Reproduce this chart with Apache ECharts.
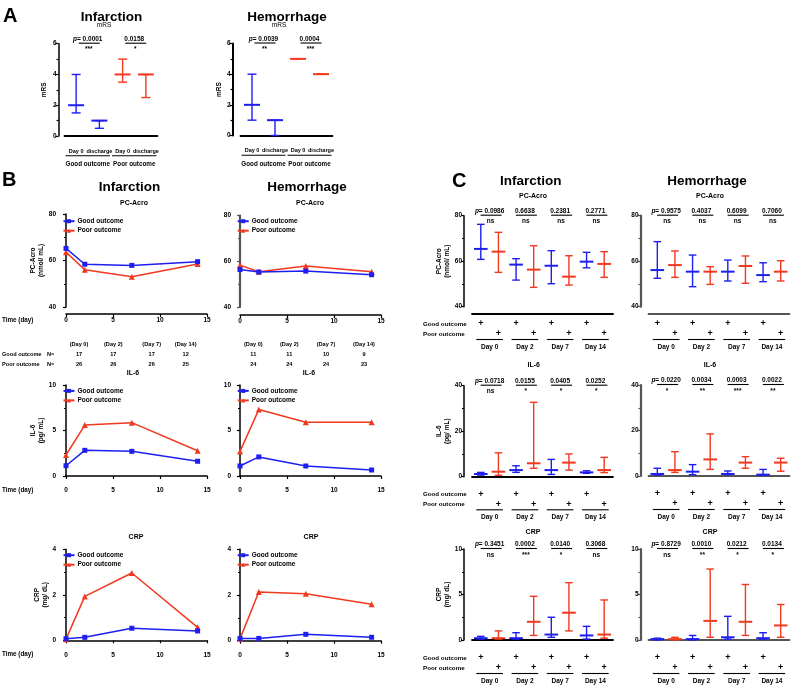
<!DOCTYPE html>
<html><head><meta charset="utf-8">
<script src="https://cdn.jsdelivr.net/npm/echarts@6/dist/echarts.min.js"></script>
<style>html,body{margin:0;padding:0;background:#fff}#c{width:792px;height:687px}</style>
</head><body><div id="c"></div>
<script>
const BLUE = '#1e1ef0', RED = '#f2381f';
const FF = '"Liberation Sans", Arial, sans-serif';

// ---------- Panel A data ----------
const aCategories = ['Day 0', 'discharge', 'Day 0', 'discharge'];
const aGroups = ['Good outcome', 'Poor outcome'];
const aInfMedian = [2, 1, 4, 4];
const aInfLow = [1.5, 0.5, 3.5, 2.5];
const aInfHigh = [4, 1, 5, 4];
const aInfP = ['0.0001', '0.0158'];
const aInfStars = ['***', '*'];
const aHemMedian = [2, 1, 5, 4];
const aHemLow = [1, 0, 5, 4];
const aHemHigh = [4, 1, 5, 4];
const aHemP = ['0.0039', '0.0004'];
const aHemStars = ['**', '***'];

// ---------- Panel B data ----------
const bDays = [0, 2, 7, 14];
const bInfAcroGood = [65.2, 58.4, 57.9, 59.5];
const bInfAcroPoor = [63.6, 56.0, 53.0, 58.5];
const bHemAcroGood = [56.4, 55.3, 55.7, 54.1];
const bHemAcroPoor = [58.3, 55.4, 57.9, 55.4];
const bInfIl6Good = [1.13, 2.82, 2.71, 1.62];
const bInfIl6Poor = [2.31, 5.6, 5.86, 2.78];
const bHemIl6Good = [1.1, 2.1, 1.1, 0.66];
const bHemIl6Poor = [2.7, 7.3, 5.9, 5.9];
const bInfCrpGood = [0.07, 0.13, 0.53, 0.41];
const bInfCrpPoor = [0.05, 1.93, 2.96, 0.57];
const bHemCrpGood = [0.1, 0.1, 0.28, 0.15];
const bHemCrpPoor = [0.08, 2.13, 2.05, 1.6];
const nDayLabels = ['(Day 0)', '(Day 2)', '(Day 7)', '(Day 14)'];
const nInfGood = [17, 17, 17, 12];
const nInfPoor = [26, 26, 26, 25];
const nHemGood = [11, 11, 10, 9];
const nHemPoor = [24, 24, 24, 23];

// ---------- Panel C data (alternating Good / Poor per day) ----------
const cCategories = ['Good', 'Poor', 'Good', 'Poor', 'Good', 'Poor', 'Good', 'Poor'];
const cDays = ['Day 0', 'Day 2', 'Day 7', 'Day 14'];
const cInfAcroMed = [65.4, 64.2, 58.5, 56.3, 58.0, 53.2, 59.8, 58.8];
const cInfAcroLow = [60.8, 55.1, 51.7, 48.5, 50.1, 49.5, 57.1, 52.9];
const cInfAcroHigh = [76.2, 72.7, 61.1, 66.8, 64.6, 62.4, 63.9, 64.2];
const cInfAcroP = ['0.0986', '0.6638', '0.2381', '0.2771'];
const cInfAcroStars = ['ns', 'ns', 'ns', 'ns'];
const cHemAcroMed = [56.1, 58.3, 55.4, 55.4, 55.4, 57.9, 53.9, 55.4];
const cHemAcroLow = [52.5, 52.9, 48.8, 49.8, 51.3, 50.3, 51.0, 51.3];
const cHemAcroHigh = [68.6, 64.5, 62.7, 57.6, 60.5, 62.3, 59.3, 60.2];
const cHemAcroP = ['0.9575', '0.4037', '0.6099', '0.7060'];
const cHemAcroStars = ['ns', 'ns', 'ns', 'ns'];
const cInfIl6Med = [1.2, 2.2, 2.9, 5.9, 2.9, 6.2, 1.9, 2.9];
const cInfIl6Low = [0.7, 0.6, 1.9, 3.7, 1.0, 2.9, 1.5, 1.8];
const cInfIl6High = [1.9, 10.5, 4.8, 32.7, 7.6, 10.0, 2.6, 8.5];
const cInfIl6P = ['0.0718', '0.0155', '0.0405', '0.0252'];
const cInfIl6Stars = ['ns', '*', '*', '*'];
const cHemIl6Med = [0.9, 2.6, 1.9, 7.3, 0.9, 5.9, 0.6, 5.9];
const cHemIl6Low = [0.4, 1.6, 0.6, 2.9, 0.6, 3.4, 0.3, 2.1];
const cHemIl6High = [3.4, 10.7, 5.0, 18.5, 2.2, 8.5, 2.9, 7.8];
const cHemIl6P = ['0.0220', '0.0034', '0.0003', '0.0022'];
const cHemIl6Stars = ['*', '**', '***', '**'];
const cInfCrpMed = [0.2, 0.2, 0.2, 2.0, 0.6, 3.0, 0.5, 0.6];
const cInfCrpLow = [0.1, 0.1, 0.1, 0.5, 0.3, 1.0, 0.1, 0.2];
const cInfCrpHigh = [0.4, 1.0, 0.8, 4.8, 2.5, 6.3, 1.5, 4.4];
const cInfCrpP = ['0.3451', '0.0002', '0.0140', '0.3068'];
const cInfCrpStars = ['ns', '***', '*', 'ns'];
const cHemCrpMed = [0.1, 0.1, 0.1, 2.1, 0.3, 2.0, 0.2, 1.6];
const cHemCrpLow = [0.0, 0.0, 0.0, 0.3, 0.1, 0.5, 0.1, 0.3];
const cHemCrpHigh = [0.2, 0.3, 0.5, 7.8, 2.6, 6.1, 0.8, 3.9];
const cHemCrpP = ['0.8729', '0.0010', '0.0212', '0.0134'];
const cHemCrpStars = ['ns', '**', '*', '*'];

// ---------- builders ----------
const grids = [], xAxes = [], yAxes = [], series = [], legends = [], graphics = [];

function txt(x, y, text, size, weight, extra) {
  return Object.assign({
    type: 'text', x: x, y: y, silent: true,
    style: Object.assign({
      text: text, fill: '#000', fontSize: size, fontWeight: weight || 'bold', fontFamily: FF,
      align: 'center', verticalAlign: 'middle', textAlign: 'center', textVerticalAlign: 'middle'
    }, extra || {})
  });
}
function ln(x1, y1, x2, y2, w, c) {
  return { type: 'line', silent: true, shape: { x1: x1, y1: y1, x2: x2, y2: y2 }, style: { stroke: c || '#000', lineWidth: w || 1.2 } };
}

function yAxisCfg(gi, c, axisColor, axisW) {
  return {
    type: 'value', gridIndex: gi, min: c.min, max: c.max, interval: c.interval, offset: c.yOff,
    splitLine: { show: false },
    axisLine: { show: true, lineStyle: { color: axisColor, width: axisW } },
    axisTick: { show: true, length: 3, lineStyle: { color: axisColor, width: 1.2 } },
    minorTick: { show: true, splitNumber: 2, length: 2, lineStyle: { color: axisColor, width: 1.2 } },
    axisLabel: { fontSize: 6.5, fontWeight: 'bold', color: '#000', margin: 2, fontFamily: FF },
    name: c.yName || '', nameLocation: 'middle', nameRotate: 90, nameGap: c.nameGap || 10,
    nameTextStyle: { fontSize: 6.5, fontWeight: 'bold', color: '#000', lineHeight: 7.5, fontFamily: FF }
  };
}

// Error-bar (median with range) plot, used for panels A and C
function addRangePlot(c) {
  const gi = grids.length;
  const axisColor = c.axisColor || '#000', axisW = c.axisW || 1.5;
  grids.push({ left: c.left, top: c.top, width: c.width, height: c.height });
  xAxes.push({
    type: 'category', gridIndex: gi, data: c.cats, offset: c.xOff, boundaryGap: true,
    axisLine: { show: true, lineStyle: { color: axisColor, width: 1.8 } },
    axisTick: { show: false },
    axisLabel: c.kind === 'A'
      ? { show: true, interval: 0, fontSize: 5.5, fontWeight: 'bold', color: '#000', margin: 4, fontFamily: FF }
      : { show: false },
    splitLine: { show: false }
  });
  yAxes.push(yAxisCfg(gi, c, axisColor, axisW));
  const capW = c.kind === 'A' ? 4.5 : 3.8;
  const medW = c.kind === 'A' ? 8 : 6.8;
  series.push({
    type: 'custom', xAxisIndex: gi, yAxisIndex: gi, silent: true,
    data: c.med.map((m, i) => [i, m, c.low[i], c.high[i]]),
    encode: { x: 0, y: 1 },
    renderItem: function (params, api) {
      const i = api.value(0);
      const col = c.colorOf(i);
      const pm = api.coord([i, api.value(1)]);
      const pl = api.coord([i, api.value(2)]);
      const ph = api.coord([i, api.value(3)]);
      const x = pm[0];
      return {
        type: 'group', children: [
          ln(x, pl[1], x, ph[1], 1.4, col),
          ln(x - capW, pl[1], x + capW, pl[1], 1.4, col),
          ln(x - capW, ph[1], x + capW, ph[1], 1.4, col),
          ln(x - medW, pm[1], x + medW, pm[1], 2, col)
        ]
      };
    }
  });
  // annotations: p values, stars, group rows
  series.push({
    type: 'custom', xAxisIndex: gi, yAxisIndex: gi, silent: true, clip: false, z: 10,
    data: c.pvals.map((p, i) => [i, c.max]),
    encode: { x: 0, y: 1 },
    renderItem: function (params, api) {
      const k = params.dataIndex;
      const a = api.coord([2 * k, c.max]);
      const b = api.coord([2 * k + 1, c.max]);
      const bot = api.coord([2 * k, c.min])[1] + c.xOff;
      const cx = (a[0] + b[0]) / 2, top = a[1];
      const ch = [];
      const ptxt = (k === 0 ? '{i|p}= ' : '') + c.pvals[k];
      ch.push(txt(cx, top - 4.5, ptxt, 6.5, 'bold', {
        rich: { i: { fontStyle: 'italic', fontSize: 6.5, fontWeight: 'bold', fontFamily: FF, fill: '#000' } }
      }));
      ch.push(ln(cx - 10.5 + 1.5, top - 0.5, cx + 10.5 + 1.5, top - 0.5, 1.1));
      ch.push(txt(cx + 1, top + 6, c.stars[k], 6.5, 'bold'));
      if (c.kind === 'A') {
        const hw = (b[0] - a[0]) / 2;
        ch.push(ln(a[0] - hw + 1, bot + 11.7, b[0] + hw - 1, bot + 11.7, 1.1));
        ch.push(txt(cx, bot + 20.7, aGroups[k], 6.3, 'bold'));
      } else {
        ch.push(txt(a[0], bot + 10, '+', 9, 'bold'));
        ch.push(txt(b[0], bot + 20, '+', 9, 'bold'));
        ch.push(ln(a[0] - 4.5, bot + 25.5, b[0] + 4.5, bot + 25.5, 1.1));
        ch.push(txt(cx, bot + 33.3, cDays[k], 6.5, 'bold'));
      }
      return { type: 'group', children: ch };
    }
  });
}

// Time-course line plot (panel B)
function addLinePlot(c) {
  const gi = grids.length;
  const axisColor = c.axisColor || '#000', axisW = c.axisW || 1.5;
  grids.push({ left: c.left, top: c.top, width: c.width, height: c.height });
  xAxes.push({
    type: 'value', gridIndex: gi, min: 0, max: 15, interval: 5, offset: c.xOff,
    splitLine: { show: false },
    axisLine: { show: true, lineStyle: { color: '#000', width: 1.5 } },
    axisTick: { show: true, length: 3, lineStyle: { color: '#000', width: 1.2 } },
    axisLabel: { fontSize: 6.5, fontWeight: 'bold', color: '#000', margin: 3, fontFamily: FF }
  });
  yAxes.push(yAxisCfg(gi, c, axisColor, axisW));
  series.push({
    type: 'line', name: 'Good outcome', xAxisIndex: gi, yAxisIndex: gi,
    data: bDays.map((d, i) => [d, c.good[i]]),
    symbol: 'rect', symbolSize: 5, lineStyle: { width: 1.5, color: BLUE }, itemStyle: { color: BLUE }, z: 3
  });
  series.push({
    type: 'line', name: 'Poor outcome', xAxisIndex: gi, yAxisIndex: gi,
    data: bDays.map((d, i) => [d, c.poor[i]]),
    symbol: 'triangle', symbolSize: 6, lineStyle: { width: 1.5, color: RED }, itemStyle: { color: RED }, z: 2
  });
  legends.push({
    data: ['Good outcome', 'Poor outcome'], orient: 'vertical', left: c.legLeft, top: c.legTop,
    itemWidth: 11, itemHeight: 5, itemGap: 2.5, padding: 0, selectedMode: false,
    textStyle: { fontSize: 6.5, fontWeight: 'bold', color: '#000', fontFamily: FF, padding: [0, 0, 0, -2] }
  });
  if (c.timeLabel) {
    graphics.push(txt(2, c.top + c.height + c.xOff + 6.2, 'Time (day)', 6.3, 'bold', { align: 'left', textAlign: 'left' }));
  }
}

const blueFirst2 = i => (i < 2 ? BLUE : RED);
const alt = i => (i % 2 === 0 ? BLUE : RED);

// ---------- Panel A ----------
addRangePlot({ kind: 'A', left: 64.5, top: 43.7, width: 93, height: 92.3, min: 0, max: 6, interval: 2, yOff: 6, xOff: 8,
  cats: aCategories, med: aInfMedian, low: aInfLow, high: aInfHigh, pvals: aInfP, stars: aInfStars,
  colorOf: blueFirst2, yName: 'mRS', nameGap: 11 });
addRangePlot({ kind: 'A', left: 240.5, top: 43.5, width: 92, height: 92, min: 0, max: 6, interval: 2, yOff: 8, xOff: 8,
  cats: aCategories, med: aHemMedian, low: aHemLow, high: aHemHigh, pvals: aHemP, stars: aHemStars,
  colorOf: blueFirst2, yName: 'mRS', nameGap: 7, axisW: 2 });

// ---------- Panel B ----------
addLinePlot({ left: 66, top: 214, width: 141, height: 93, min: 40, max: 80, interval: 20, yOff: 8, xOff: 7,
  good: bInfAcroGood, poor: bInfAcroPoor, yName: 'PC-Acro\n(nmol/ mL)', nameGap: 9.5, legLeft: 62.5, legTop: 217.7, timeLabel: true });
addLinePlot({ left: 240, top: 215.5, width: 141, height: 91.5, min: 40, max: 80, interval: 20, yOff: 7, xOff: 8,
  good: bHemAcroGood, poor: bHemAcroPoor, legLeft: 236.7, legTop: 217.7, axisColor: '#555', axisW: 2.2 });
addLinePlot({ left: 66, top: 385, width: 141, height: 91, min: 0, max: 10, interval: 5, yOff: 8, xOff: 8,
  good: bInfIl6Good, poor: bInfIl6Poor, yName: 'IL-6\n(pg/ mL)', nameGap: 8.5, legLeft: 62.5, legTop: 387.4, timeLabel: true });
addLinePlot({ left: 240, top: 385, width: 141, height: 91, min: 0, max: 10, interval: 5, yOff: 7, xOff: 8,
  good: bHemIl6Good, poor: bHemIl6Poor, legLeft: 236.7, legTop: 387.4 });
addLinePlot({ left: 66, top: 549.3, width: 141, height: 91, min: 0, max: 4, interval: 2, yOff: 8, xOff: 8,
  good: bInfCrpGood, poor: bInfCrpPoor, yName: 'CRP\n(mg/ dL)', nameGap: 8.5, legLeft: 62.5, legTop: 551.7, timeLabel: true });
addLinePlot({ left: 240, top: 549.3, width: 141, height: 91.4, min: 0, max: 4, interval: 2, yOff: 7, xOff: 8,
  good: bHemCrpGood, poor: bHemCrpPoor, legLeft: 236.7, legTop: 551.7 });

// ---------- Panel C ----------
addRangePlot({ kind: 'C', left: 472, top: 215.7, width: 141, height: 91, min: 40, max: 80, interval: 20, yOff: 8, xOff: 7.3,
  cats: cCategories, med: cInfAcroMed, low: cInfAcroLow, high: cInfAcroHigh, pvals: cInfAcroP, stars: cInfAcroStars,
  colorOf: alt, yName: 'PC-Acro\n(nmol/ mL)', nameGap: 9.6 });
addRangePlot({ kind: 'C', left: 648.5, top: 215.7, width: 141, height: 91, min: 40, max: 80, interval: 20, yOff: 8, xOff: 7.3,
  cats: cCategories, med: cHemAcroMed, low: cHemAcroLow, high: cHemAcroHigh, pvals: cHemAcroP, stars: cHemAcroStars,
  colorOf: alt, axisColor: '#555', axisW: 2.2 });
addRangePlot({ kind: 'C', left: 472, top: 385.7, width: 141, height: 91, min: 0, max: 40, interval: 20, yOff: 8, xOff: 7.6,
  cats: cCategories, med: cInfIl6Med, low: cInfIl6Low, high: cInfIl6High, pvals: cInfIl6P, stars: cInfIl6Stars,
  colorOf: alt, yName: 'IL-6\n(pg/ mL)', nameGap: 10 });
addRangePlot({ kind: 'C', left: 648.5, top: 385, width: 141, height: 91, min: 0, max: 40, interval: 20, yOff: 8, xOff: 8,
  cats: cCategories, med: cHemIl6Med, low: cHemIl6Low, high: cHemIl6High, pvals: cHemIl6P, stars: cHemIl6Stars,
  colorOf: alt, axisColor: '#555', axisW: 2.2 });
addRangePlot({ kind: 'C', left: 472, top: 549, width: 141, height: 91, min: 0, max: 10, interval: 5, yOff: 8, xOff: 8,
  cats: cCategories, med: cInfCrpMed, low: cInfCrpLow, high: cInfCrpHigh, pvals: cInfCrpP, stars: cInfCrpStars,
  colorOf: alt, yName: 'CRP\n(mg/ dL)', nameGap: 10 });
addRangePlot({ kind: 'C', left: 648.5, top: 549, width: 141, height: 91, min: 0, max: 10, interval: 5, yOff: 8, xOff: 8,
  cats: cCategories, med: cHemCrpMed, low: cHemCrpLow, high: cHemCrpHigh, pvals: cHemCrpP, stars: cHemCrpStars,
  colorOf: alt, axisColor: '#555', axisW: 2.2 });

// ---------- titles and static text ----------
const L = { align: 'left', textAlign: 'left' };
graphics.push(
  txt(3, 16, 'A', 20, 'bold', L),
  txt(111.5, 17, 'Infarction', 13.5, 'bold'),
  txt(104, 25, 'mRS', 6.5, 'normal'),
  txt(287, 17, 'Hemorrhage', 13.5, 'bold'),
  txt(279, 25, 'mRS', 6.5, 'normal'),
  txt(2, 180.5, 'B', 20, 'bold', L),
  txt(129.5, 187, 'Infarction', 13.5, 'bold'),
  txt(307, 187, 'Hemorrhage', 13.5, 'bold'),
  txt(134, 203, 'PC-Acro', 7, 'bold'),
  txt(310, 203, 'PC-Acro', 7, 'bold'),
  txt(133, 373, 'IL-6', 7, 'bold'),
  txt(309, 373, 'IL-6', 7, 'bold'),
  txt(136, 537, 'CRP', 7, 'bold'),
  txt(311, 537, 'CRP', 7, 'bold'),
  txt(452, 181, 'C', 20, 'bold', L),
  txt(530.7, 181, 'Infarction', 13.5, 'bold'),
  txt(707, 181, 'Hemorrhage', 13.5, 'bold'),
  txt(533, 196, 'PC-Acro', 7, 'bold'),
  txt(710, 196, 'PC-Acro', 7, 'bold'),
  txt(533.7, 365, 'IL-6', 7, 'bold'),
  txt(710, 365, 'IL-6', 7, 'bold'),
  txt(533, 532, 'CRP', 7, 'bold'),
  txt(710, 532, 'CRP', 7, 'bold')
);
// C row labels
[314, 484.3, 648].forEach(b => {
  graphics.push(txt(423, b + 10, 'Good outcome', 6.2, 'bold', L));
  graphics.push(txt(423, b + 20, 'Poor outcome', 6.2, 'bold', L));
});
// N table
const nInfCols = [79, 113.3, 151.7, 185.7];
const nHemCols = [253.3, 289.3, 326, 364];
graphics.push(txt(2, 354, 'Good outcome', 5.6, 'bold', L), txt(47, 354, 'N=', 5.6, 'bold', L));
graphics.push(txt(2, 364, 'Poor outcome', 5.6, 'bold', L), txt(47, 364, 'N=', 5.6, 'bold', L));
nDayLabels.forEach((d, i) => {
  graphics.push(txt(nInfCols[i], 344, d, 5.6, 'bold'), txt(nHemCols[i], 344, d, 5.6, 'bold'));
  graphics.push(txt(nInfCols[i], 354, String(nInfGood[i]), 5.6, 'bold'), txt(nHemCols[i], 354, String(nHemGood[i]), 5.6, 'bold'));
  graphics.push(txt(nInfCols[i], 364, String(nInfPoor[i]), 5.6, 'bold'), txt(nHemCols[i], 364, String(nHemPoor[i]), 5.6, 'bold'));
});

const chart = echarts.init(document.getElementById('c'), null, { renderer: 'canvas' });
chart.setOption({
  animation: false,
  backgroundColor: '#fff',
  textStyle: { fontFamily: FF },
  grid: grids, xAxis: xAxes, yAxis: yAxes, series: series, legend: legends,
  graphic: { elements: graphics }
});
</script></body></html>
